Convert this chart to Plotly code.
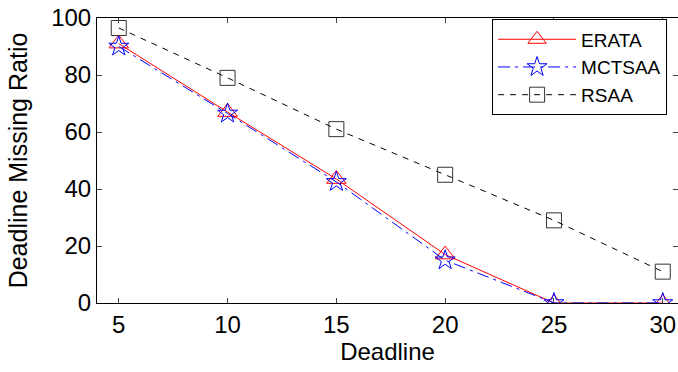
import plotly.graph_objects as go

deadline = [5, 10, 15, 20, 25, 30]
erata = [91, 67, 43.5, 17, 0, 0]
mctsaa = [90, 66.5, 42.5, 15, 0, 0]
rsaa = [96.5, 79, 61, 45, 29, 11]
x_ticks = [5, 10, 15, 20, 25, 30]
y_ticks = [0, 20, 40, 60, 80, 100]

FONT = "Liberation Sans, Arial, Helvetica, sans-serif"

fig = go.Figure()
fig.add_trace(go.Scatter(
    x=deadline, y=erata, name="ERATA", mode="lines+markers",
    line=dict(color="red", width=1),
    marker=dict(symbol="triangle-up-open", size=17, color="red", line=dict(width=1))))
fig.add_trace(go.Scatter(
    x=deadline, y=mctsaa, name="MCTSAA", mode="lines+markers",
    line=dict(color="blue", width=1, dash="12px,5px,3px,5px"),
    marker=dict(symbol="star-open", size=15, color="blue", line=dict(width=1))))
fig.add_trace(go.Scatter(
    x=deadline, y=rsaa, name="RSAA", mode="lines+markers",
    line=dict(color="black", width=1, dash="6px,6px"),
    marker=dict(symbol="square-open", size=15, color="#333333", line=dict(width=1))))

fig.update_layout(
    width=678, height=372,
    margin=dict(l=97, r=0, t=18, b=69),
    paper_bgcolor="white", plot_bgcolor="white",
    font=dict(family=FONT, size=24, color="black"),
    showlegend=True,
    legend=dict(x=0.68, y=0.995, xanchor="left", yanchor="top",
                bgcolor="white", bordercolor="black", borderwidth=1,
                font=dict(family=FONT, size=19, color="black"),
                tracegroupgap=0, itemwidth=78),
    xaxis=dict(range=[4, 30.7], tickvals=x_ticks, ticks="inside", ticklen=5,
               showline=True, linecolor="black", linewidth=1, mirror="ticks",
               showgrid=False, zeroline=False,
               title=dict(text="Deadline", font=dict(size=24), standoff=6),
               tickfont=dict(size=24)),
    yaxis=dict(range=[0, 100], tickvals=y_ticks, ticks="inside", ticklen=5,
               showline=True, linecolor="black", linewidth=1, mirror="ticks",
               showgrid=False, zeroline=False,
               title=dict(text="Deadline Missing Ratio", font=dict(size=25), standoff=16),
               tickfont=dict(size=24)),
)

fig.write_html("out.html")
